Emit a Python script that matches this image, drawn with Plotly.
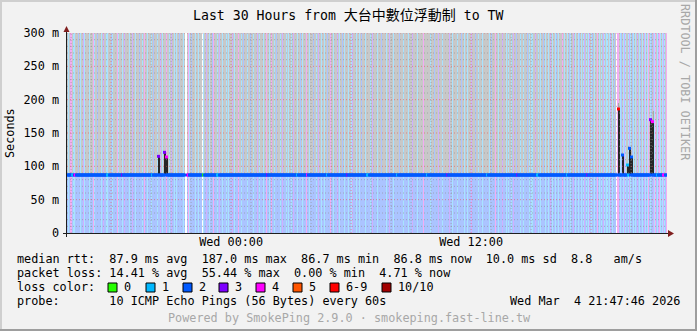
import plotly.graph_objects as go
from datetime import datetime, timedelta

# ---------------- data ----------------
title_prefix = "Last 30 Hours from "
title_target = "大台中數位浮動制"
title_suffix = " to TW"
end_time = datetime(2026, 3, 4, 21, 47, 46)
span_hours = 30
bin_minutes = 3

# loss background class of every 3-minute column (one string per hour)
# g = smoke(gray)/blue, c = 1 loss, b = 2 loss, p = 3 loss, m = 4 loss, w = no data
stripe_hours = [
    "gcgmmgccgggbgcggpcgg", "ggcgggmcggbgggcgpggc", "cgggbcggggmcgggcgpgg",
    "ggcggpggcgggbggcgmgg", "cgggcgbgggcggpgcgggm", "ggcgpggcgcggbgggcgww",
    "gmcgbgggcggcgggwcggp", "ggcggbmgggcgpggcgggc", "gcgggpgcgggmggcgbggg",
    "cggbggcgggpgcgggcggm", "ggcgmggcgbgggcgpgggc", "gcggcgpgggcggbgcgggm",
    "ggcgggbggcgpggcggcgg", "bggmggcgggpgcggbgcgg", "gcggcpgggcggcgbgggcg",
    "gggcgpggggcgggbggggc", "ggpgggcgggggbgggcggg", "gcgggpggggcgggggmggg",
    "gggcgggbgggpgggcgggg", "ggpggcggggcgggbggcgg", "cgggpgggbggcgggcgggg",
    "ggcgbgggmggcgggpgggc", "gcggcgpggbgggcggcggg", "bgcgccggpggcgcggbgcg",
    "gcgpgcggcbgcgggmgcgg", "cgbcggpgcggcbgcgcpgc", "gcpgcbgcggmgcgcgpcgc",
    "cgcpgcgbgwmmgcbgcpcg", "gcpcgbcgcgpgcbgcgpcg", "cmgcbgpcmgcpmcgcpcgm",
]
median_rtt = 87.0
default_median_loss = 2
# columns where the median line has another loss colour
median_loss_bins = [5, 6, 7, 8, 40, 41, 55, 85, 91, 97, 99, 120, 121, 136, 150, 151, 200,
                    230, 240, 260, 280, 300, 301, 330, 360, 380, 420, 450, 470, 471, 500,
                    520, 551, 560, 561, 583, 585, 590, 596, 597]
median_loss_vals = [1, 1, 3, 4, 1, 1, 3, 1, 3, 3, 4, 3, 4, 0, 1, 1, 3,
                    1, 4, 1, 3, 1, 1, 1, 1, 3, 1, 3, 1, 1, 1,
                    3, 6, 1, 1, 3, 4, 1, 4, 4]
spike_bins = [91, 97, 99, 551, 555, 560, 562, 564, 583, 585]
spike_values = [115, 121, 114, 186, 117, 102, 127, 114, 170, 167]
smoke_max_bins = [551, 586]
smoke_max_values = [195, 183]

y_tickvals = [0, 50, 100, 150, 200, 250, 300]
y_ticktext = ["0", "50 m", "100 m", "150 m", "200 m", "250 m", "300 m"]

line_rtt = "median rtt:  87.9 ms avg  187.0 ms max  86.7 ms min  86.8 ms now  10.0 ms sd  8.8   am/s"
line_loss = "packet loss: 14.41 % avg  55.44 % max  0.00 % min  4.71 % now"
line_color_lbl = "loss color:"
loss_labels = ["0", "1", "2", "3", "4", "5", "6-9", "10/10"]
loss_colors = ["#26ff00", "#00b8ff", "#0059ff", "#7e00ff", "#ff00ff", "#ff5500", "#ff0000", "#a10000"]
line_probe = "probe:       10 ICMP Echo Pings (56 Bytes) every 60s"
stamp = "Wed Mar  4 21:47:46 2026"
powered = "Powered by SmokePing 2.9.0 · smokeping.fast-line.tw"
side_text = "RRDTOOL / TOBI OETIKER"
y_title = "Seconds"

# ---------------- styles ----------------
MONO = "DejaVu Sans Mono, Noto Sans CJK TC, monospace"
# palette of background cells: 0 gray smoke, 1 light blue, 2 cyan, 3 lavender, 4 pink, 5 white
CELL_COLORS = ["#c8c8c8", "#abc4ff", "#a9e3ff", "#cfb1ff", "#f3adf3", "#ffffff"]
TOP_CODE = {"g": 0, "b": 1, "c": 2, "p": 3, "m": 4, "w": 5}
BOT_CODE = {"g": 1, "b": 1, "c": 2, "p": 3, "m": 4, "w": 5}
LOSS_LINE = ["#26ff00", "#00b8ff", "#0059ff", "#7e00ff", "#ff00ff", "#ff5500", "#ff0000", "#a10000"]
GRID = "rgba(143,143,143,0.6)"
MGRID = "rgba(222,79,79,0.55)"

W, H = 697, 331
PL, PT, PW, PH = 67, 33, 600, 200


def fx(px):
    return (px - PL) / PW


def fy(py):
    return (PT + PH - py) / PH


# ---------------- derived ----------------
stripes = "".join(stripe_hours)
start_time = end_time - timedelta(hours=span_hours)
step = timedelta(minutes=bin_minutes)
nb = len(stripes)
xs = [start_time + step * (i + 0.5) for i in range(nb)]
x_edges = [start_time + step * i for i in range(nb + 1)]
spikes = dict(zip(spike_bins, spike_values))
mloss = dict(zip(median_loss_bins, median_loss_vals))

fig = go.Figure()

# background loss stripes as a two-row heatmap (0..median, median..300)
ncol = len(CELL_COLORS)
cscale = []
for k, col in enumerate(CELL_COLORS):
    cscale.append([k / ncol, col])
    cscale.append([(k + 1) / ncol, col])
z = [[BOT_CODE[c] + 0.5 for c in stripes], [TOP_CODE[c] + 0.5 for c in stripes]]
fig.add_trace(go.Heatmap(x=x_edges, y=[0, median_rtt, 300], z=z, zmin=0, zmax=ncol,
                         colorscale=cscale, showscale=False, hoverinfo="skip", zsmooth=False))

# light smoke tips
fig.add_trace(go.Bar(x=[xs[i] for i in smoke_max_bins],
                     y=[v - median_rtt for v in smoke_max_values],
                     base=[median_rtt] * len(smoke_max_bins),
                     width=[bin_minutes * 60000] * len(smoke_max_bins),
                     marker=dict(color="#a8a8a8", line=dict(width=0)),
                     hoverinfo="skip", showlegend=False))

# grid (drawn above the stripes)
t_hour = start_time.replace(minute=0, second=0) + timedelta(hours=1)
minor_x, major_x = [], []
while t_hour < end_time:
    (major_x if t_hour.hour % 6 == 0 else minor_x).append(t_hour)
    t_hour += timedelta(hours=1)


def vlines(ts):
    X, Y = [], []
    for t in ts:
        X += [t, t, None]
        Y += [0, 300, None]
    return X, Y


def hlines(vals):
    X, Y = [], []
    for v in vals:
        X += [start_time, end_time, None]
        Y += [v, v, None]
    return X, Y


minor_y = [v for v in range(10, 300, 10) if v % 50 != 0]
major_y = [v for v in range(50, 301, 50)]
for (X, Y), col in [(vlines(minor_x), GRID), (hlines(minor_y), GRID),
                    (vlines(major_x), MGRID), (hlines(major_y), MGRID)]:
    fig.add_trace(go.Scatter(x=X, y=Y, mode="lines",
                             line=dict(color=col, width=1, dash="1px,2px"),
                             hoverinfo="skip", showlegend=False))

# dark smoke spikes
fig.add_trace(go.Bar(x=[xs[i] for i in spike_bins],
                     y=[v - median_rtt + 1 for v in spike_values],
                     base=[median_rtt - 1] * len(spike_bins),
                     width=[bin_minutes * 60000 * 2] * len(spike_bins),
                     marker=dict(color="#262626", line=dict(width=0)),
                     hoverinfo="skip", showlegend=False))

# median line, colored by loss
mx, my, mc = [], [], []
for i, c in enumerate(stripes):
    if c == "w":
        continue
    mx.append(xs[i])
    my.append(spikes.get(i, median_rtt))
    mc.append(LOSS_LINE[mloss.get(i, default_median_loss)])
fig.add_trace(go.Scatter(x=mx, y=my, mode="markers",
                         marker=dict(symbol="square", size=3, color=mc, line=dict(width=0)),
                         hoverinfo="skip", showlegend=False))

# ---------------- decorations ----------------
shapes = []
# frame shading
shapes.append(dict(type="rect", xref="paper", yref="paper", x0=fx(0), x1=fx(W), y0=fy(2), y1=fy(0),
                   fillcolor="#cfcfcf", line=dict(width=0), layer="above"))
shapes.append(dict(type="rect", xref="paper", yref="paper", x0=fx(0), x1=fx(2), y0=fy(H), y1=fy(0),
                   fillcolor="#cfcfcf", line=dict(width=0), layer="above"))
shapes.append(dict(type="rect", xref="paper", yref="paper", x0=fx(0), x1=fx(W), y0=fy(H), y1=fy(H - 2),
                   fillcolor="#9e9e9e", line=dict(width=0), layer="above"))
shapes.append(dict(type="rect", xref="paper", yref="paper", x0=fx(W - 2), x1=fx(W), y0=fy(H), y1=fy(0),
                   fillcolor="#9e9e9e", line=dict(width=0), layer="above"))
# axes
shapes.append(dict(type="line", xref="paper", yref="paper", x0=fx(63), x1=fx(670), y0=fy(233.5), y1=fy(233.5),
                   line=dict(color="#1f1f1f", width=1), layer="above"))
shapes.append(dict(type="line", xref="paper", yref="paper", x0=fx(66.5), x1=fx(66.5), y0=fy(237), y1=fy(30),
                   line=dict(color="#1f1f1f", width=1), layer="above"))


def path(pts):
    return "M " + " L ".join(f"{fx(a)},{fy(b)}" for a, b in pts) + " Z"


shapes.append(dict(type="path", xref="paper", yref="paper",
                   path=path([(668, 230), (674, 233.5), (668, 237)]),
                   fillcolor="#801f1f", line=dict(width=0), layer="above"))
shapes.append(dict(type="path", xref="paper", yref="paper",
                   path=path([(63.5, 32), (66.5, 26), (69.5, 32)]),
                   fillcolor="#801f1f", line=dict(width=0), layer="above"))

annotations = []


def txt(s, x, y, anchor="left", color="black", size=11.8, angle=0):
    annotations.append(dict(text=s.replace(" ", "\u00a0"), x=fx(x), y=fy(y), xref="paper", yref="paper",
                            xanchor=anchor, yanchor="middle", showarrow=False, textangle=angle,
                            font=dict(family=MONO, size=size, color=color)))


annotations.append(dict(
    text=(title_prefix.replace(" ", "\u00a0")
          + "<span style='font-size:14px'>" + title_target + "</span>"
          + title_suffix.replace(" ", "\u00a0")),
    x=fx(348.5), y=fy(15), xref="paper", yref="paper", xanchor="center", yanchor="middle",
    showarrow=False, font=dict(family=MONO, size=13.2, color="black")))

txt(line_rtt, 15, 259)
txt(line_loss, 15, 273)
txt(line_color_lbl, 15, 287)
txt(line_probe, 15, 301)
txt(stamp, 682, 301, anchor="right")
txt(powered, 349, 318, anchor="center", color="#a8a8a8")
txt(side_text, 685, 82, anchor="center", color="#a8a8a8", angle=90)
txt(y_title, 10, 133, anchor="center", angle=-90)

box_x = [108, 146, 183, 219, 256, 293, 330, 382]
for bx, lab, col in zip(box_x, loss_labels, loss_colors):
    shapes.append(dict(type="rect", xref="paper", yref="paper", x0=fx(bx), x1=fx(bx + 9),
                       y0=fy(292), y1=fy(283), fillcolor=col, line=dict(color="black", width=1),
                       layer="above"))
    txt(lab, bx + 14, 287)

fig.update_layout(
    width=W, height=H, autosize=False,
    margin=dict(l=PL, r=W - PL - PW, t=PT, b=H - PT - PH, pad=0),
    paper_bgcolor="#f2f2f2", plot_bgcolor="#ffffff",
    barmode="overlay", bargap=0, showlegend=False,
    font=dict(family=MONO, size=11.8, color="black"),
    xaxis=dict(type="date", range=[start_time, end_time], showgrid=False, zeroline=False,
               tickformat="%a %H:%M", tick0="2026-03-04 00:00:00", dtick=12 * 3600 * 1000,
               ticks="", showline=False, fixedrange=True,
               tickfont=dict(family=MONO, size=11.8, color="black")),
    yaxis=dict(range=[0, 300], tickvals=y_tickvals, ticktext=y_ticktext, showgrid=False,
               zeroline=False, ticks="", showline=False, fixedrange=True, ticklabelstandoff=7,
               tickfont=dict(family=MONO, size=11.8, color="black")),
    shapes=shapes, annotations=annotations,
)

fig.write_html("out.html", config={"displayModeBar": False})
